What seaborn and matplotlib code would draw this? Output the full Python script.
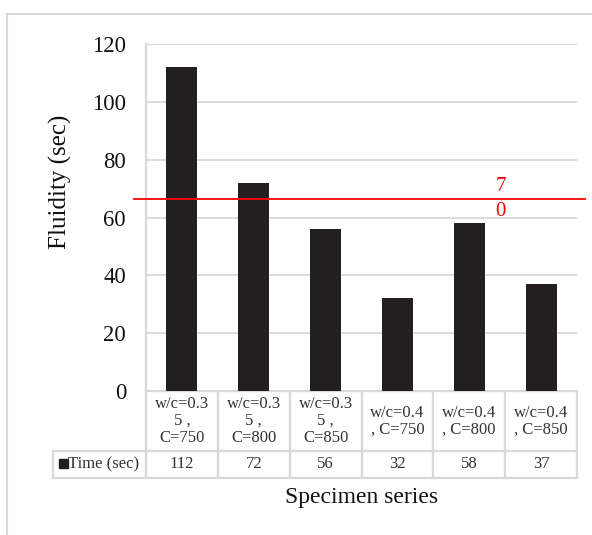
import matplotlib
matplotlib.use("Agg")
import matplotlib.pyplot as plt
import matplotlib.transforms as mtransforms
from matplotlib.lines import Line2D
from matplotlib.patches import Rectangle
import seaborn as sns
import pandas as pd

# ---- data ----
categories = ["w/c=0.3\n5 ,\nC=750", "w/c=0.3\n5 ,\nC=800", "w/c=0.3\n5 ,\nC=850",
              "w/c=0.4\n, C=750", "w/c=0.4\n, C=800", "w/c=0.4\n, C=850"]
values = [112, 72, 56, 32, 58, 37]
series_name = "Time (sec)"
ref_value = 66.5
ref_label = "70"
y_ticks = [0, 20, 40, 60, 80, 100, 120]
y_label = "Fluidity (sec)"
x_label = "Specimen series"

W, H = 592, 535
plt.rcParams['font.family'] = ['Liberation Serif', 'DejaVu Serif']

fig = plt.figure(figsize=(W / 100, H / 100), dpi=100)
L, R, T, B = 146, 577, 44, 391
ax = fig.add_axes([L / W, 1 - B / H, (R - L) / W, (B - T) / H])

df = pd.DataFrame({"cat": categories, "val": values})
sns.barplot(data=df, x="cat", y="val", color="#231F20", width=0.43,
            saturation=1, ax=ax, zorder=3)

ax.set_xlim(-0.5, len(categories) - 0.5)
ax.set_ylim(0, 120)
ax.set_yticks(y_ticks)
ax.set_yticklabels([str(t) for t in y_ticks], fontsize=16.3, color="#111111")
ax.tick_params(axis='y', length=0, pad=14.4)
ax.set_xticks([])
ax.set_xlabel("")
ax.set_ylabel("")
for s in ax.spines.values():
    s.set_visible(False)
ax.yaxis.grid(True, color="#D9D9D9", linewidth=1.3, zorder=0)
ax.set_axisbelow(True)

# y label
fig.text(60 / W, 1 - 182 / H, y_label, rotation=90, fontsize=18,
         ha='center', va='center', color="#111111")

# reference line
xl = -0.5 - 12 / 71.8
xr = len(categories) - 0.5 + 8 / 71.8
ax.plot([xl, xr], [ref_value, ref_value], color="#FF0000", lw=1.3,
        clip_on=False, zorder=5)
ax.text(4.44, ref_value, "\n".join(ref_label), color="#FF0000", fontsize=15,
        ha='center', va='center', linespacing=1.4, zorder=6)

# ---- data table ----
tr = mtransforms.blended_transform_factory(ax.transData, ax.transAxes)
gc = "#D9D9D9"
tlw = 1.6
n = len(categories)
r1 = (B - 451) / (B - T)
r2 = (B - 477.5) / (B - T)
leg_left = (53 - L) / 71.8 - 0.5

def tline(xs, ys):
    ax.add_line(Line2D(xs, ys, transform=tr, color=gc, lw=tlw,
                       clip_on=False, zorder=1))

tline([-0.5, n - 0.5], [0, 0])
tline([leg_left, n - 0.5], [r1, r1])
tline([leg_left, n - 0.5], [r2, r2])
tline([leg_left, leg_left], [r1, r2])
tline([-0.5, -0.5], [1, r2])
for i in range(1, n + 1):
    tline([i - 0.5, i - 0.5], [0, r2])

for i, (c, v) in enumerate(zip(categories, values)):
    ax.text(i, r1 / 2, c, transform=tr, ha='center', va='center',
            fontsize=12, linespacing=1.05, color="#333333")
    ax.text(i, (r1 + r2) / 2, str(v), transform=tr, ha='center',
            va='center', fontsize=12, color="#333333")

# legend key in table
fig.patches.append(Rectangle(((59) / W, 1 - 467.5 / H), 9 / W, 9 / H,
                             transform=fig.transFigure, color="#231F20"))
fig.text(104 / W, 1 - 464.5 / H, series_name, fontsize=12,
         ha='center', va='center', color="#333333")

# x label
fig.text(362 / W, 1 - 497 / H, x_label, fontsize=17, ha='center',
         va='center', color="#111111")

# outer chart border (partially visible)
fig.lines.append(Line2D([7 / W, 7 / W], [0, 1 - 14 / H],
                        transform=fig.transFigure, color=gc, lw=1.5))
fig.lines.append(Line2D([7 / W, 1], [1 - 14 / H, 1 - 14 / H],
                        transform=fig.transFigure, color=gc, lw=1.5))

fig.savefig("out.png", dpi=100)
